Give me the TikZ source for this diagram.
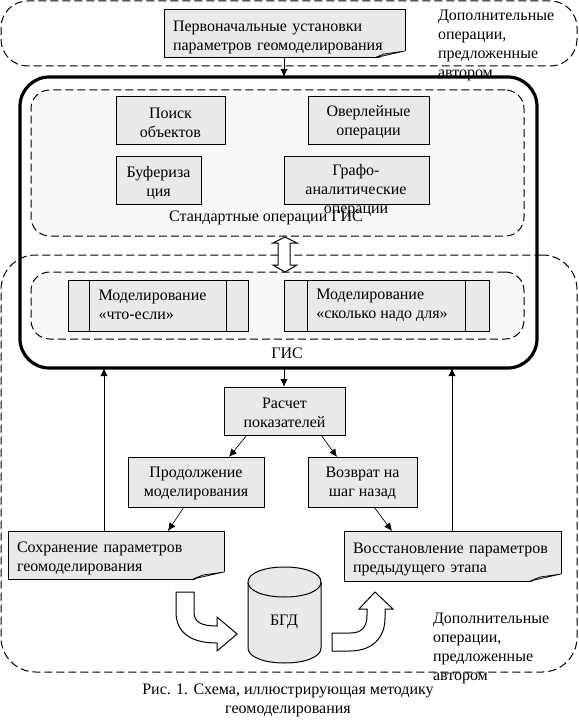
\documentclass[tikz,border=0pt]{standalone}
\usepackage{fontspec}
\setmainfont{Liberation Serif}
\usetikzlibrary{arrows.meta}
\definecolor{boxfill}{HTML}{E9E9E9}
\definecolor{panelfill}{HTML}{F8F8F8}
\definecolor{foldfill}{HTML}{B4B4B4}
\newcommand{\bx}[7]{\node[#6,minimum width={(#4-#2)*0.75pt},minimum height={(#5-#3)*0.75pt}] (#1) at ({(#2+#4)/2},{(#3+#5)/2}) {#7};}
\newcommand{\foldnote}[6]{% name x1 y1 x2 y2 text
 \node[notebox,text width={(#4-#2-18)*0.75pt},minimum width={(#4-#2)*0.75pt},minimum height={(#5-#3)*0.75pt}] (#1) at ({(#2+#4)/2},{(#3+#5)/2}) {\rule{0pt}{12.5pt}#6};
 \fill[white] (#4-31,#5+1) -- (#4+1,#5+1) -- (#4+1,#5-7) -- cycle;
 \draw[fill=foldfill,line width=0.5pt] (#4,#5-7) -- (#4-21,#5-4) -- (#4-31,#5) -- cycle;
 \draw[line width=0.75pt] (#4-31,#5) -- (#2,#5);
}
\tikzset{x=0.75pt,y=-0.75pt,
 lab/.style={font=\fontsize{12}{14.25}\selectfont,inner sep=0pt,outer sep=0pt,align=left},
 box/.style={draw,line width=0.75pt,fill=boxfill,font=\fontsize{12}{14.25}\selectfont,inner sep=0pt,outer sep=0pt,align=center},
 notebox/.style={box,align=left},
 plain/.style={draw=none,fill=none,font=\fontsize{12}{14.25}\selectfont,inner sep=0pt,outer sep=0pt,align=center},
 dashpanel/.style={draw,line width=0.75pt,dash pattern=on 6pt off 3pt,inner sep=0pt,outer sep=0pt},
 gis/.style={draw,line width=2.4pt,rounded corners=22pt,inner sep=0pt,outer sep=0pt},
 conn/.style={line width=0.75pt,-{Latex[length=6pt,width=5.5pt]}},
 thin conn/.style={line width=0.5pt,-{Latex[length=6pt,width=5.5pt]}},
 hollow/.style={draw,line width=0.75pt,fill=white},
}
\begin{document}
\begin{tikzpicture}
\useasboundingbox (0,0) rectangle (578,727);
\fill[white] (0,0) rectangle (578,727);
% outer dashed regions
\bx{top}{1}{1}{577}{66}{dashpanel,rounded corners=20pt}{}
\bx{lower}{1}{255}{577}{672}{dashpanel,rounded corners=26pt}{}
\bx{gisbox}{20}{77}{537}{368}{gis}{}
\bx{std}{31}{90}{524}{236}{dashpanel,rounded corners=14pt,fill=panelfill}{}
\bx{mod}{31}{272}{524}{339}{dashpanel,rounded corners=14pt,fill=panelfill}{}
% top
\foldnote{init}{164}{10}{405}{58}{Первоначальные установки\\параметров геомоделирования}
\node[lab,anchor=north west] (extra1) at (438,10) {Дополнительные\\операции,\\предложенные\\автором};
% standard ops
\bx{find}{116}{97}{225}{145}{box}{\rule{0pt}{10pt}Поиск\\объектов}
\bx{over}{308}{97}{429}{145}{box}{\rule{0pt}{10pt}Оверлейные\\операции}
\bx{buf}{116}{157}{201}{205}{box}{\rule{0pt}{11pt}Буфериза\\ция}
\bx{graph}{284}{157}{429}{205}{box}{}
\node[plain] (graphtext) at (356,191) {Графо-\\аналитические\\операции};
\node[plain] (stdlabel) at (266,218) {Стандартные операции ГИС};
% double arrow
\draw[hollow] (285,237) -- (297,243) -- (290,243) -- (290,265) -- (297,265) -- (285,272) -- (273,265) -- (278,265) -- (278,243) -- (273,243) -- cycle;
% modelling
\bx{m1}{68}{280}{248}{331}{box}{}
\draw[line width=0.75pt] (89,280) -- (89,331) (226,280) -- (226,331);
\node[lab] (m1t) at (152.5,305) {Моделирование\\«что-если»};
\bx{m2}{284}{280}{489}{331}{box}{}
\draw[line width=0.75pt] (307,280) -- (307,331) (465,280) -- (465,331);
\node[lab] (m2t) at (382,305) {Моделирование\\«сколько надо для»};
\node[plain] (gislabel) at (287,353) {ГИС};
% lower boxes
\bx{calc}{224}{387}{345}{435}{box}{\rule{0pt}{10pt}Расчет\\показателей}
\bx{cont}{128}{457}{264}{507}{box}{\rule{0pt}{10pt}Продолжение\\моделирования}
\bx{back}{308}{457}{417}{507}{box}{\rule{0pt}{10pt}Возврат на\\шаг назад}
\foldnote{save}{8}{531}{224}{579}{Сохранение параметров\\геомоделирования}
\foldnote{rest}{344}{531}{561}{581}{Восстановление параметров\\предыдущего этапа}
% cylinder
\path[draw,line width=0.75pt,fill=boxfill] (248,582) .. controls (248,573) and (264,567) .. (284.5,567) .. controls (305,567) and (321,573) .. (321,582) -- (321,648) .. controls (321,657) and (305,663) .. (284.5,663) .. controls (264,663) and (248,657) .. (248,648) -- cycle;
\draw[line width=0.75pt] (248,582) .. controls (248,591) and (264,597) .. (284.5,597) .. controls (305,597) and (321,591) .. (321,582);
\node[plain] (bgd) at (284,622) {БГД};
% curved arrows
\draw[hollow] (176,592) -- (194,592) -- (194,612) .. controls (194,622) and (201,626) .. (217,626) -- (217,617) -- (237,634) -- (217,651) -- (217,643) .. controls (190,643) and (176,632) .. (176,612) -- cycle;
\draw[hollow] (332,633) -- (350,633) .. controls (361,633) and (367,628) .. (367,615) -- (367,609) -- (359,609) -- (375,592) -- (393,609) -- (385,609) -- (385,618) .. controls (385,638) and (372,651) .. (350,651) -- (332,651) -- cycle;
\node[lab,anchor=north west] (extra2) at (433,613) {Дополнительные\\операции,\\предложенные\\автором};
\node[plain] (cap) at (288,700) {Рис. 1. Схема, иллюстрирующая методику\\геомоделирования};
% connectors
\draw[conn] (init.south -| 284,0) -- (gisbox.north -| 284,0);
\draw[conn] (gisbox.south -| 284,0) -- (calc.north -| 284,0);
\draw[conn] (save.north -| 104,0) -- (gisbox.south -| 104,0);
\draw[conn] (rest.north -| 452,0) -- (gisbox.south -| 452,0);
\draw[thin conn] (247,435) -- (229,457);
\draw[thin conn] (321,435) -- (337,457);
\draw[thin conn] (184,507) -- (168,531);
\draw[thin conn] (374,507) -- (392,531);
\end{tikzpicture}
\end{document}
